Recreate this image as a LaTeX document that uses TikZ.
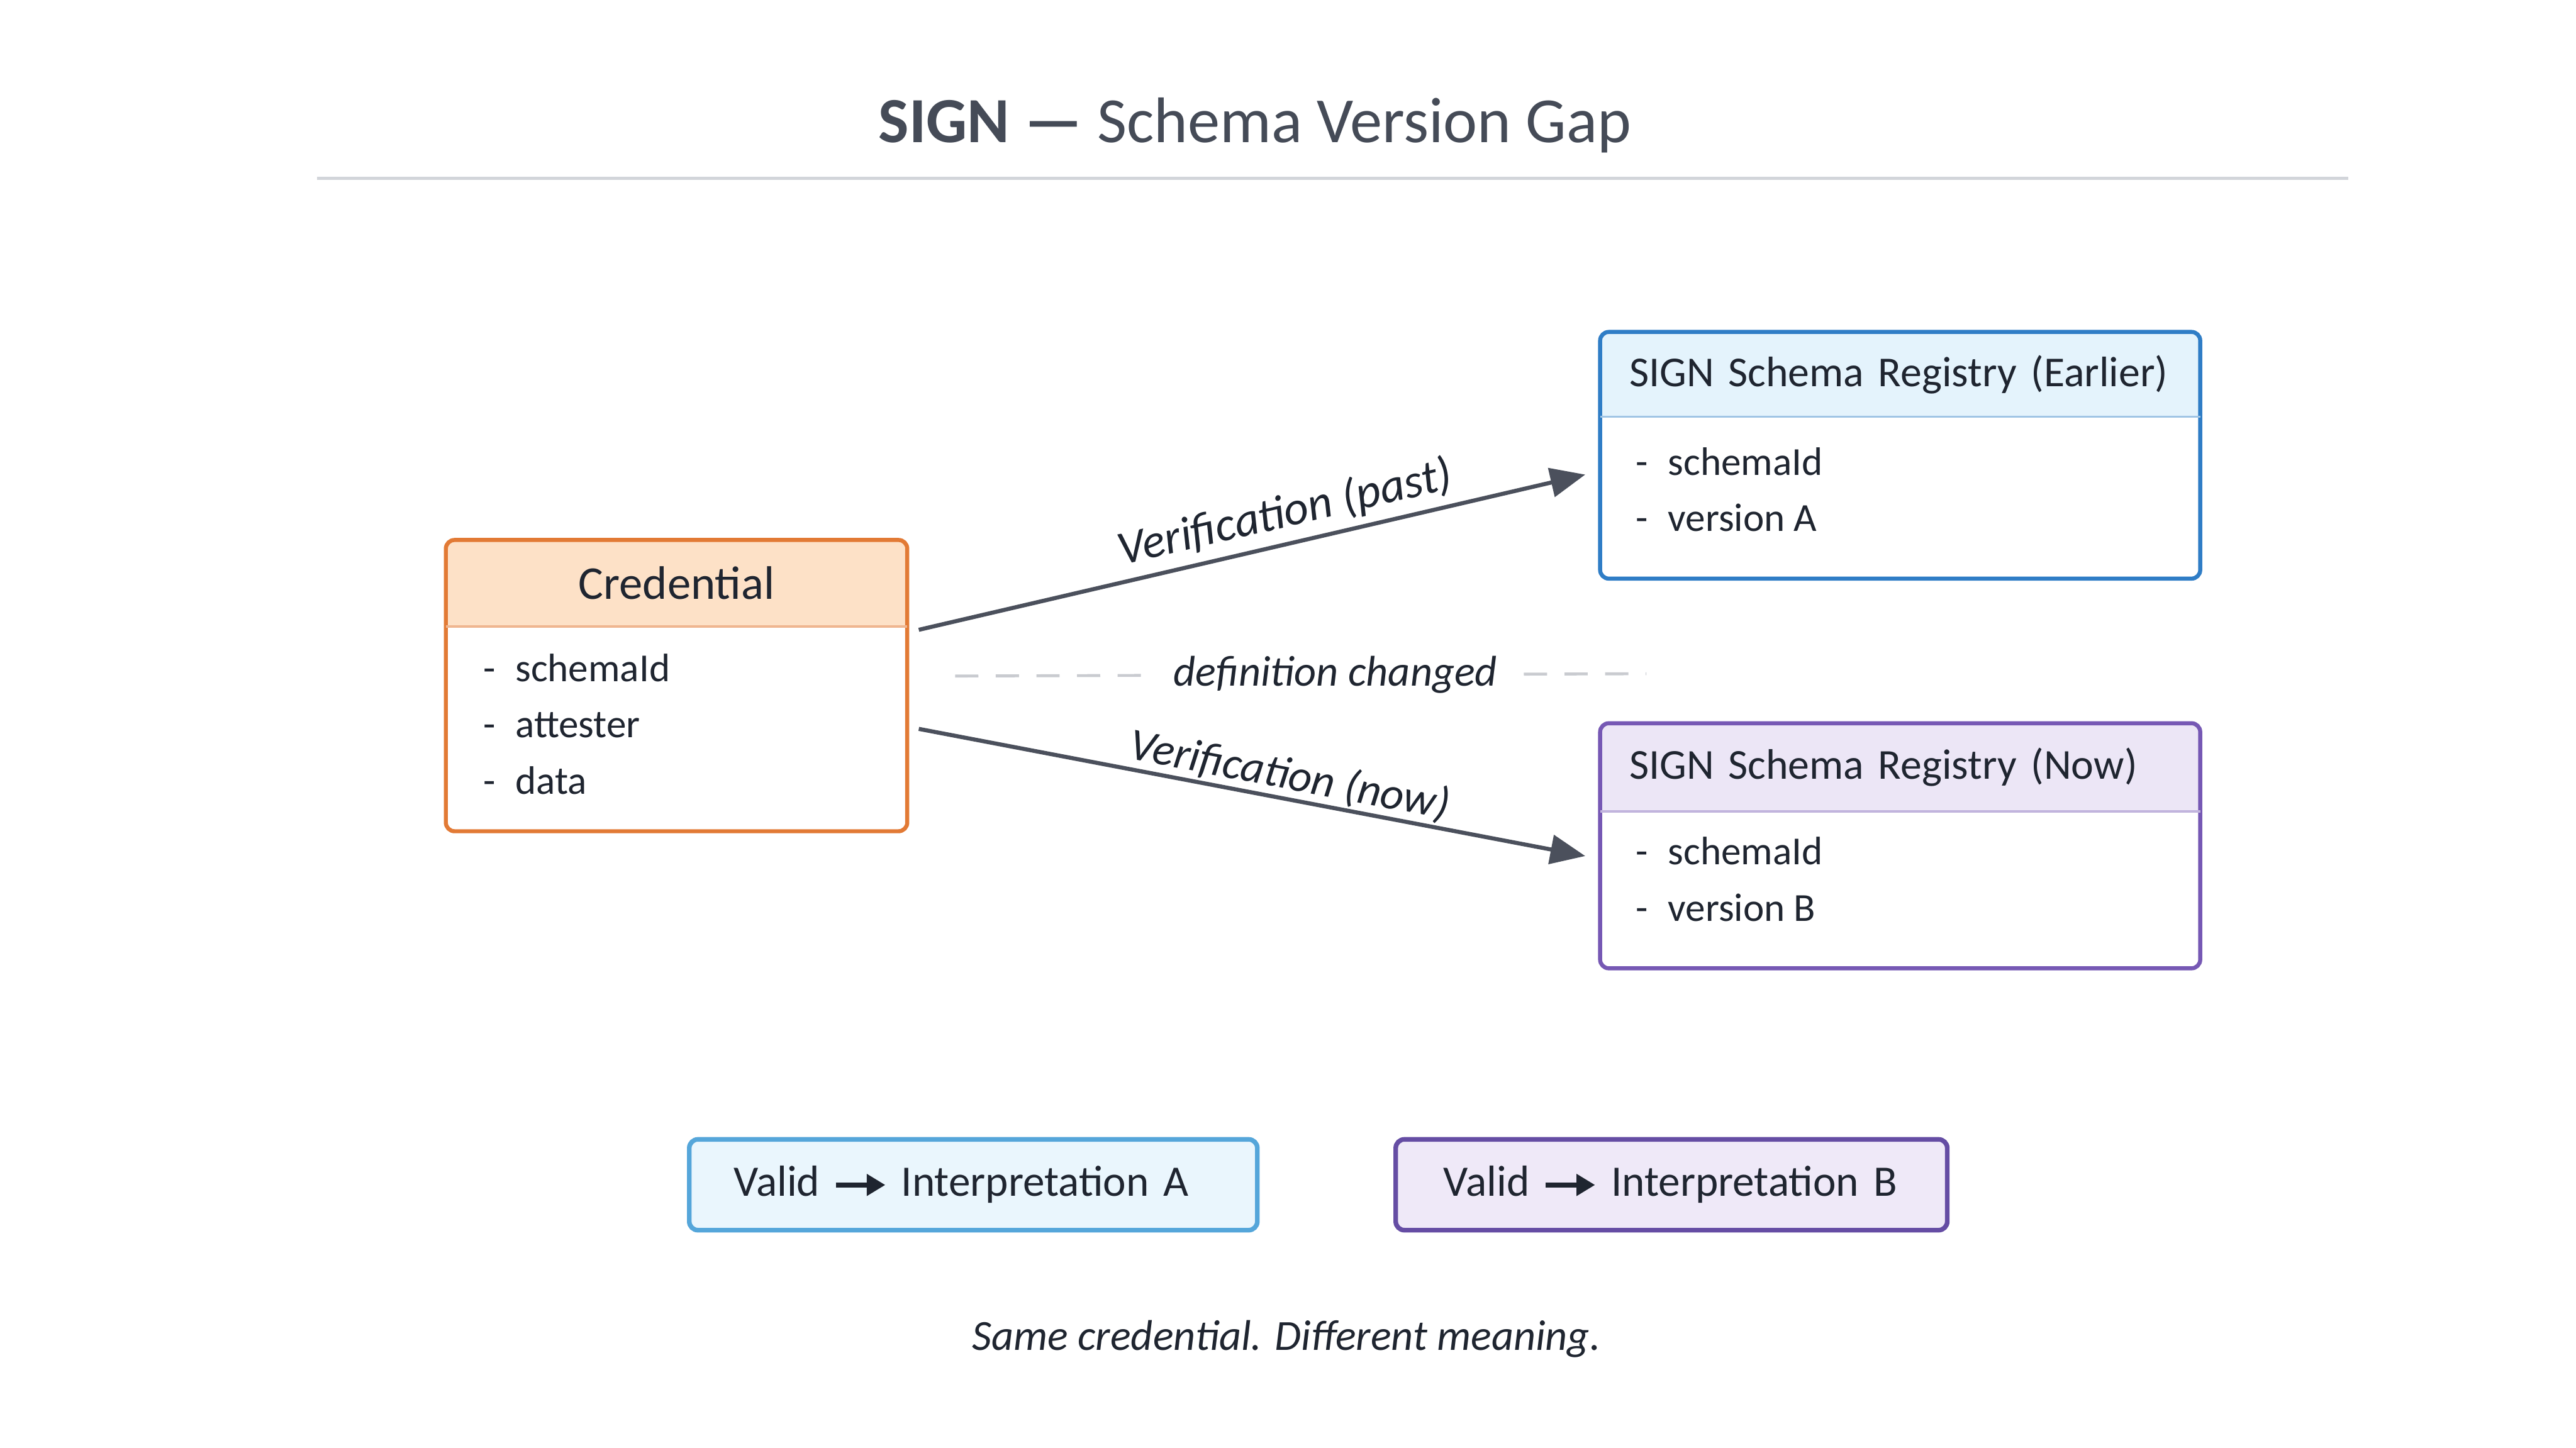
\documentclass[tikz,border=0pt]{standalone}
\usepackage{fontspec}
\setmainfont{Carlito}
\usepackage{tikz}
\usetikzlibrary{positioning}
\usetikzlibrary{calc}
\usetikzlibrary{arrows.meta}
\pgfdeclarelayer{background}
\pgfsetlayers{background,main}
\definecolor{ink}{HTML}{1F2530}
\definecolor{titleink}{HTML}{454B57}
\definecolor{rulegray}{HTML}{D2D5DA}
\definecolor{arrowgray}{HTML}{4B505C}
\definecolor{dashgray}{HTML}{C9CBD0}
\definecolor{credline}{HTML}{E27A35}
\definecolor{credhead}{HTML}{FDE1C7}
\definecolor{credbody}{HTML}{FFFAF3}
\definecolor{earlyline}{HTML}{2F7DC6}
\definecolor{earlyhead}{HTML}{E4F3FC}
\definecolor{nowline}{HTML}{7658B4}
\definecolor{nowhead}{HTML}{ECE6F6}
\definecolor{legaline}{HTML}{55A6DA}
\definecolor{legafill}{HTML}{EAF6FD}
\definecolor{legbline}{HTML}{654DA4}
\definecolor{legbfill}{HTML}{EFE9F8}

\begin{document}
\begin{tikzpicture}
			[
				myhead/.style = {rectangle, anchor = north west, inner ysep = 0pt, text = ink, font = \fontsize{7.35}{8.5}\selectfont},
				myitems/.style = {rectangle, inner sep = 0pt, text = ink, align = left, font = \fontsize{6.85}{9.7}\selectfont},
				myframe/.style = {line width = 0.7pt, rounded corners = 1.5pt},
				mylegend/.style = {rectangle, draw, line width = 0.8pt, rounded corners = 1.5pt, minimum height = 0.55cm, inner xsep = 0.27cm, anchor = west, text = ink, font = \fontsize{7.5}{8.5}\selectfont},
				myarrow/.style = {arrowgray, line width = 0.7pt, -{Triangle[length = 6pt, width = 5pt]}},
				myhand/.style = {text = ink, font = \fontsize{7.4}{8.5}\selectfont\itshape}
			]
			%
			\fill [white] (0,0) rectangle (15.6,-8.766);
			\useasboundingbox (0,0) rectangle (15.6,-8.766);
			%
			\node (title) [text = titleink, font = \fontsize{11.1}{13}\selectfont] at (7.60,-0.76) {\textbf{SIGN —} Schema Version Gap};
			\coordinate (rulefrom) at (1.92,-1.08);
			\coordinate (ruleto) at (14.22,-1.08);
			\draw [rulegray, line width = 0.5pt] (rulefrom) -- (ruleto);
			%
			\node (credhead) [myhead, fill = credhead, minimum width = 2.78cm, minimum height = 0.51cm, font = \fontsize{8.1}{9}\selectfont] at (2.70,-3.27) {Credential};
			\coordinate (credcorner) at ([yshift = -1.24cm]credhead.south east);
			\node (credbody) [myitems, below right = 0.59cm and 0.22cm of credhead.south west, anchor = west] {-\enspace schemaId\\-\enspace attester\\-\enspace data};
			\begin{pgfonlayer}{background}
				\fill [credbody] (credhead.south west) rectangle (credcorner);
			\end{pgfonlayer}
			\draw [credline, myframe] (credhead.north west) rectangle (credcorner);
			\draw [credline!55, line width = 0.4pt] (credhead.south west) -- (credhead.south east);
			%
			\node (earlyhead) [myhead, fill = earlyhead, inner xsep = 0.17cm, text width = 3.28cm, align = left, minimum height = 0.50cm] at (9.69,-2.01) {\mbox{SIGN Schema Registry (Earlier)}};
			\coordinate (earlycorner) at ([yshift = -0.98cm]earlyhead.south east);
			\node (earlybody) [myitems, below right = 0.44cm and 0.21cm of earlyhead.south west, anchor = west] {-\enspace schemaId\\-\enspace version A};
			\draw [earlyline, myframe] (earlyhead.north west) rectangle (earlycorner);
			\draw [earlyline!45, line width = 0.4pt] (earlyhead.south west) -- (earlyhead.south east);
			%
			\node (nowhead) [myhead, fill = nowhead, inner xsep = 0.17cm, text width = 3.28cm, align = left, minimum height = 0.52cm] at (9.69,-4.38) {\mbox{SIGN Schema Registry (Now)}};
			\coordinate (nowcorner) at ([yshift = -0.95cm]nowhead.south east);
			\node (nowbody) [myitems, below right = 0.41cm and 0.21cm of nowhead.south west, anchor = west] {-\enspace schemaId\\-\enspace version B};
			\draw [nowline, myframe] (nowhead.north west) rectangle (nowcorner);
			\draw [nowline!45, line width = 0.4pt] (nowhead.south west) -- (nowhead.south east);
			%
			\coordinate (pastfrom) at ([xshift = 0.7mm, yshift = -0.2mm]credhead.south east);
			\coordinate (pastto) at ([xshift = -0.9mm, yshift = 0.9mm]earlyhead.south west |- earlybody.west);
			\draw [myarrow] (pastfrom) -- node [myhand, sloped, above, pos = 0.56, inner sep = 1.2pt, font = \fontsize{8.2}{9}\selectfont\itshape] {Verification (past)} (pastto);
			%
			\coordinate (nowfrom) at ([xshift = 0.7mm, yshift = -0.62cm]credhead.south east);
			\coordinate (nowto) at ([xshift = -0.9mm, yshift = 1.4mm]nowhead.south west |- nowbody.west);
			\draw [myarrow] (nowfrom) -- node [myhand, sloped, above, pos = 0.55, inner sep = 0.3pt, font = \fontsize{7.8}{9}\selectfont\itshape] {Verification (now)} (nowto);
			%
			\coordinate (dashfrom) at ([xshift = 2.9mm, yshift = -0.30cm]credhead.south east);
			\coordinate (dashto) at (9.97,-4.08);
			\draw [dashgray, line width = 0.5pt, dash pattern = on 4pt off 3pt] (dashfrom) -- node [myhand, fill = white, inner xsep = 4pt, pos = 0.55] {definition changed} (dashto);
			%
			\node (lega) [mylegend, draw = legaline, fill = legafill, minimum width = 3.44cm, text width = 2.90cm] at (4.16,-7.175) {Valid\hspace{2.3pt}\tikz[baseline = -0.55ex] \draw [-{Triangle[length = 3.2pt, width = 3.6pt]}, line width = 0.9pt, ink] (0,0) -- (0.30,0);\hspace{2.3pt}Interpretation A};
			\node (legb) [mylegend, draw = legbline, fill = legbfill, minimum width = 3.34cm, text width = 2.76cm, inner xsep = 0.29cm, right = 0.81cm of lega] {Valid\hspace{2.3pt}\tikz[baseline = -0.55ex] \draw [-{Triangle[length = 3.2pt, width = 3.6pt]}, line width = 0.9pt, ink] (0,0) -- (0.30,0);\hspace{2.3pt}Interpretation B};
			%
			\node (caption) [myhand] at (7.79,-8.11) {Same credential. Different meaning.};
			%
		\end{tikzpicture}
\end{document}
